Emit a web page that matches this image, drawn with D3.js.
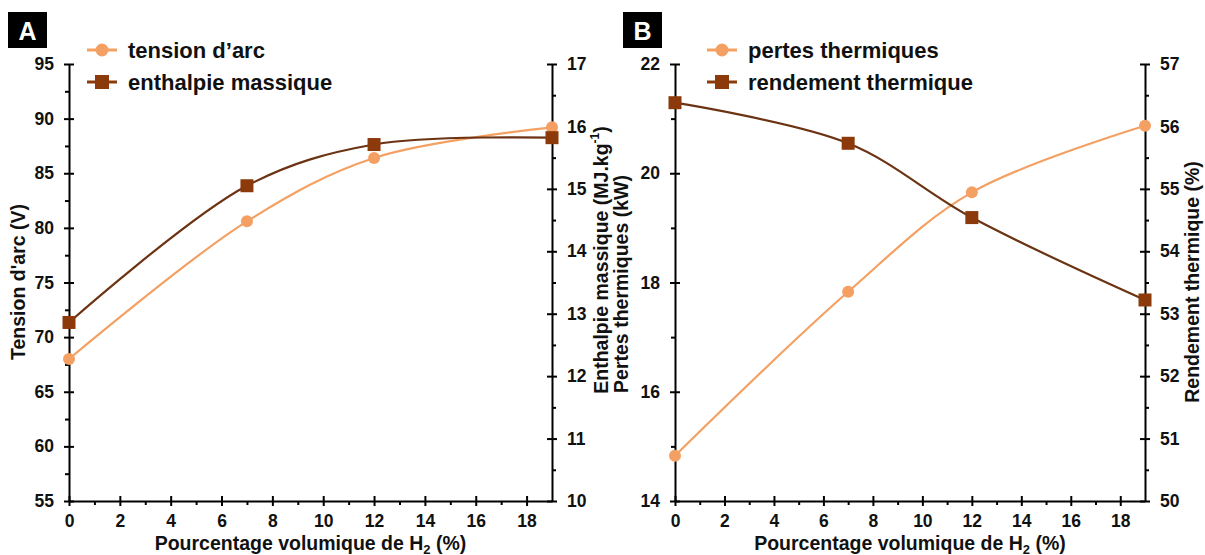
<!DOCTYPE html>
<html>
<head>
<meta charset="utf-8">
<script src="https://cdn.jsdelivr.net/npm/d3@7"></script>
<style>
  html, body { margin: 0; padding: 0; background: #fff; }
  svg { display: block; font-family: "Liberation Sans", Arial, sans-serif; font-weight: bold; }
</style>
</head>
<body>
<svg id="chart" width="1205" height="555"></svg>
<script>
// ---------- DATA ----------
const h2Percent = [0, 7, 12, 19];
const tensionArc = [68.0, 80.6, 86.4, 89.2];            // V (left axis, panel A)
const enthalpieMassique = [12.86, 15.05, 15.71, 15.82];  // MJ/kg (right axis, panel A)
const pertesThermiques = [14.83, 17.83, 19.65, 20.87];   // kW (left axis, panel B)
const rendementThermique = [56.38, 55.73, 54.54, 53.22]; // % (right axis, panel B)

const xMajorTicks = [0, 2, 4, 6, 8, 10, 12, 14, 16, 18];
const xMinorTicks = [1, 3, 5, 7, 9, 11, 13, 15, 17];
const tensionTicks = [55, 60, 65, 70, 75, 80, 85, 90, 95];
const tensionMinor = [57.5, 62.5, 67.5, 72.5, 77.5, 82.5, 87.5, 92.5];
const enthalpieTicks = [10, 11, 12, 13, 14, 15, 16, 17];
const enthalpieMinor = [10.5, 11.5, 12.5, 13.5, 14.5, 15.5, 16.5];
const pertesTicks = [14, 16, 18, 20, 22];
const pertesMinor = [15, 17, 19, 21];
const rendementTicks = [50, 51, 52, 53, 54, 55, 56, 57];
const rendementMinor = [50.5, 51.5, 52.5, 53.5, 54.5, 55.5, 56.5];

const ORANGE = "#f4a063";
const BROWN_LINE = "#6b3312";
const BROWN_MARK = "#8c3a0b";

const svg = d3.select("#chart");
const fmt = d3.format("d");

function drawPanel(cfg) {
  const g = svg.append("g");
  const x = d3.scaleLinear().domain([0, 19]).range([cfg.left, cfg.right]);
  const yL = d3.scaleLinear().domain(cfg.leftDomain).range([cfg.bottom, cfg.top]);
  const yR = d3.scaleLinear().domain(cfg.rightDomain).range([cfg.bottom, cfg.top]);

  function styleAxis(sel) {
    sel.selectAll("path.domain").attr("stroke", "#000").attr("stroke-width", 2);
    sel.selectAll("line").attr("stroke", "#000").attr("stroke-width", 2);
    sel.selectAll("text").attr("font-size", 17.5).attr("font-weight", "bold").attr("fill", "#111")
      .attr("font-family", '"Liberation Sans", Arial, sans-serif');
  }
  // bottom axis
  const xAx = g.append("g").attr("transform", `translate(0,${cfg.bottom})`)
    .call(d3.axisBottom(x).tickValues(xMajorTicks).tickFormat(fmt).tickSizeInner(5).tickSizeOuter(0).tickPadding(9));
  xAx.selectAll(".tick line").attr("y1", -5);
  styleAxis(xAx);
  const xMin = g.append("g").attr("transform", `translate(0,${cfg.bottom})`)
    .call(d3.axisBottom(x).tickValues(xMinorTicks).tickSize(4).tickFormat(""));
  xMin.select("path.domain").remove();
  styleAxis(xMin);

  // left axis
  const lAx = g.append("g").attr("transform", `translate(${cfg.left},0)`)
    .call(d3.axisLeft(yL).tickValues(cfg.leftTicks).tickFormat(fmt).tickSizeInner(5).tickSizeOuter(0).tickPadding(10));
  lAx.selectAll(".tick line").attr("x1", 5);
  styleAxis(lAx);
  const lMin = g.append("g").attr("transform", `translate(${cfg.left},0)`)
    .call(d3.axisLeft(yL).tickValues(cfg.leftMinor).tickSize(4).tickFormat(""));
  lMin.select("path.domain").remove();
  styleAxis(lMin);

  // right axis
  const rAx = g.append("g").attr("transform", `translate(${cfg.right},0)`)
    .call(d3.axisRight(yR).tickValues(cfg.rightTicks).tickFormat(fmt).tickSizeInner(5).tickSizeOuter(0).tickPadding(10));
  rAx.selectAll(".tick line").attr("x1", -5);
  styleAxis(rAx);
  const rMin = g.append("g").attr("transform", `translate(${cfg.right},0)`)
    .call(d3.axisRight(yR).tickValues(cfg.rightMinor).tickSize(4).tickFormat(""));
  rMin.select("path.domain").remove();
  styleAxis(rMin);

  // axis titles
  const tFont = 19.5;
  const xt = g.append("text")
    .attr("x", (cfg.left + cfg.right) / 2).attr("y", cfg.bottom + 49)
    .attr("text-anchor", "middle").attr("font-size", tFont).attr("fill", "#111");
  xt.append("tspan").text("Pourcentage volumique de H");
  xt.append("tspan").attr("font-size", 13).attr("dy", 4).text("2");
  xt.append("tspan").attr("dy", -4).text(" (%)");

  const lt = g.append("text")
    .attr("transform", `translate(${cfg.leftTitleX},${cfg.leftTitleY}) rotate(-90)`)
    .attr("text-anchor", "middle").attr("dominant-baseline", "middle")
    .attr("font-size", tFont).attr("fill", "#111");
  cfg.leftTitle(lt);

  const rt = g.append("text")
    .attr("transform", `translate(${cfg.rightTitleX},${cfg.rightTitleY}) rotate(-90)`)
    .attr("text-anchor", "middle").attr("dominant-baseline", "middle")
    .attr("font-size", tFont).attr("fill", "#111");
  cfg.rightTitle(rt);

  // series
  const curve = d3.curveCatmullRom.alpha(0.5);
  const leftData = h2Percent.map((v, i) => [v, cfg.leftSeries[i]]);
  const rightData = h2Percent.map((v, i) => [v, cfg.rightSeries[i]]);

  const lineL = d3.line().x(d => x(d[0])).y(d => yL(d[1])).curve(curve);
  const lineR = d3.line().x(d => x(d[0])).y(d => yR(d[1])).curve(curve);

  g.append("path").datum(leftData).attr("d", lineL)
    .attr("fill", "none").attr("stroke", ORANGE).attr("stroke-width", 2.2);
  g.append("path").datum(rightData).attr("d", lineR)
    .attr("fill", "none").attr("stroke", BROWN_LINE).attr("stroke-width", 2.2);

  g.selectAll("circle.mk").data(leftData).enter().append("circle")
    .attr("cx", d => x(d[0])).attr("cy", d => yL(d[1])).attr("r", 6)
    .attr("fill", ORANGE);
  g.selectAll("rect.mk").data(rightData).enter().append("rect")
    .attr("x", d => x(d[0]) - 6.5).attr("y", d => yR(d[1]) - 6.5)
    .attr("width", 13).attr("height", 13).attr("fill", BROWN_MARK);

  // legend
  const lg = g.append("g");
  const items = [
    { label: cfg.legend[0], color: ORANGE, shape: "circle", y: cfg.legendY[0] },
    { label: cfg.legend[1], color: BROWN_MARK, shape: "rect", y: cfg.legendY[1] }
  ];
  items.forEach(it => {
    const cx = cfg.legendX;
    lg.append("line").attr("x1", cx - 15).attr("x2", cx + 15).attr("y1", it.y).attr("y2", it.y)
      .attr("stroke", it.color).attr("stroke-width", 3);
    if (it.shape === "circle") {
      lg.append("circle").attr("cx", cx).attr("cy", it.y).attr("r", 6.5).attr("fill", it.color);
    } else {
      lg.append("rect").attr("x", cx - 7).attr("y", it.y - 7).attr("width", 14).attr("height", 14).attr("fill", it.color);
    }
    lg.append("text").attr("x", cx + 26).attr("y", it.y).attr("dominant-baseline", "central")
      .attr("font-size", 22).attr("fill", "#111").text(it.label);
  });

  // panel label
  g.append("rect").attr("x", cfg.boxX).attr("y", 12).attr("width", 39).attr("height", 36).attr("fill", "#000");
  g.append("text").attr("x", cfg.boxX + 19.5).attr("y", 31).attr("text-anchor", "middle")
    .attr("dominant-baseline", "central").attr("font-size", 25).attr("fill", "#fff").text(cfg.panel);
}

drawPanel({
  panel: "A", boxX: 8,
  left: 69, right: 552, top: 64, bottom: 501,
  leftDomain: [55, 95], rightDomain: [10, 17],
  leftTicks: tensionTicks, leftMinor: tensionMinor,
  rightTicks: enthalpieTicks, rightMinor: enthalpieMinor,
  leftSeries: tensionArc, rightSeries: enthalpieMassique,
  leftTitleX: 20, leftTitleY: 282,
  rightTitleX: 603, rightTitleY: 260,
  leftTitle: t => t.text("Tension d'arc (V)"),
  rightTitle: t => {
    t.append("tspan").text("Enthalpie massique (MJ.kg");
    t.append("tspan").attr("font-size", 12).attr("dy", -7).text("-1");
    t.append("tspan").attr("dy", 7).text(")");
  },
  legend: ["tension d\u2019arc", "enthalpie massique"],
  legendX: 102, legendY: [50, 82]
});

drawPanel({
  panel: "B", boxX: 623,
  left: 675, right: 1145, top: 64, bottom: 501,
  leftDomain: [14, 22], rightDomain: [50, 57],
  leftTicks: pertesTicks, leftMinor: pertesMinor,
  rightTicks: rendementTicks, rightMinor: rendementMinor,
  leftSeries: pertesThermiques, rightSeries: rendementThermique,
  leftTitleX: 623, leftTitleY: 284,
  rightTitleX: 1194, rightTitleY: 282,
  leftTitle: t => t.text("Pertes thermiques (kW)"),
  rightTitle: t => t.text("Rendement thermique (%)"),
  legend: ["pertes thermiques", "rendement thermique"],
  legendX: 722, legendY: [50, 82]
});
</script>
</body>
</html>
